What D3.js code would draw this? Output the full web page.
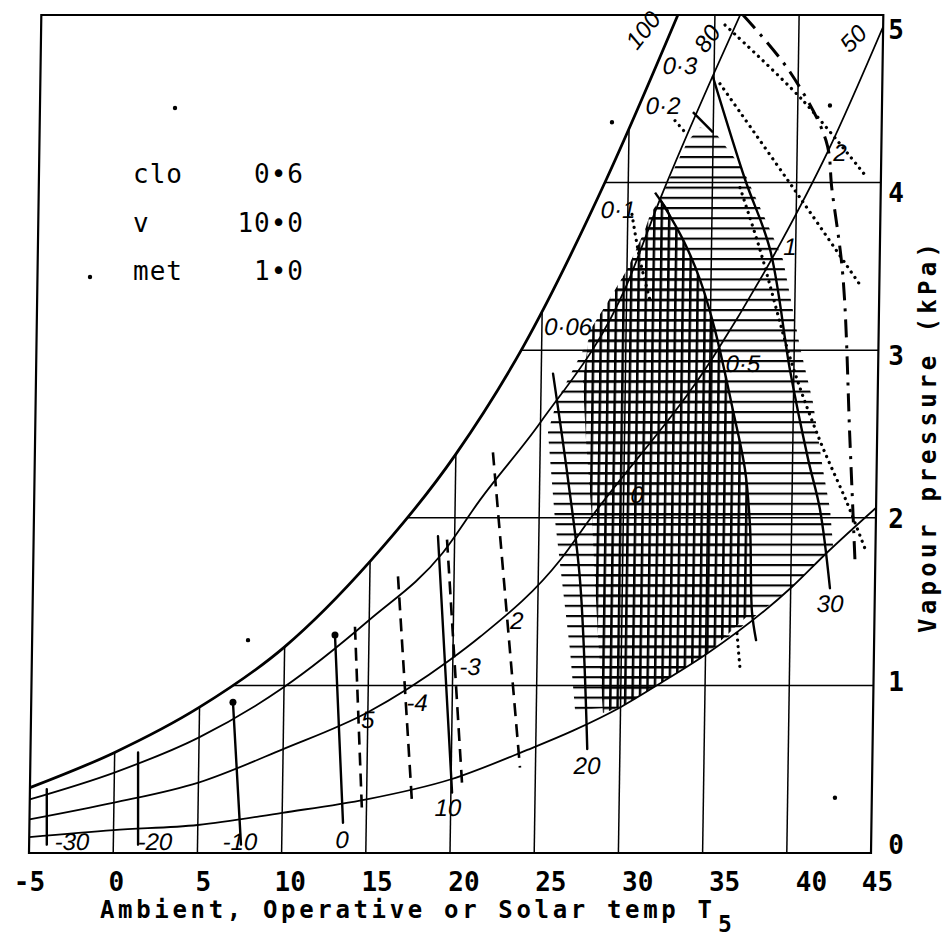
<!DOCTYPE html>
<html><head><meta charset="utf-8">
<script src="https://cdn.jsdelivr.net/npm/d3@7"></script>
<style>body{margin:0;background:#fff}svg{display:block}</style>
</head><body>
<script>
// ---------- data (temperature °C, vapour pressure kPa) ----------
const tempTicks = [-5,0,5,10,15,20,25,30,35,40,45];
const vpTicks   = [0,1,2,3,4,5];
const gridTemps = [0,5,10,15,20,25,30,35,40];
const gridVps   = [1,2,3,4];

// relative-humidity curves
const rh100 = [[-5,0.39],[0,0.60],[5,0.87],[10,1.23],[15,1.74],[20,2.38],[23.9,3.02],[28.7,4.02],[32.8,5.0]];
const rh80  = [[-5,0.32],[0,0.48],[5,0.69],[10,0.99],[15,1.39],[19.3,1.79],[21.5,2.11],[25,2.57],[30,3.39],[31.9,3.90],[34.9,4.63],[36.5,5.0]];
const rh50  = [[-5,0.20],[0,0.30],[5,0.42],[10,0.62],[15,0.84],[19.8,1.15],[21.6,1.29],[26.3,1.75],[28.0,1.99],[35.2,2.96],[39.1,3.64],[41.8,4.18],[45,4.93]];
const rh20  = [[-5,0.095],[0,0.137],[5,0.167],[10,0.24],[15,0.32],[20,0.44],[24.5,0.615],[27.2,0.73],[30,0.87],[32.3,1.01],[35.1,1.19],[40.1,1.59],[42.1,1.79],[45,2.06]];
const rhLabels = [['100',30.74,4.91],['80',34.55,4.86],['50',43.22,4.86]];

// solid index lines (label at lower end)
const isoM30 = [[-4.0,0.38],[-3.95,0.05]];
const isoM20 = [[1.39,0.60],[1.47,0.05]];
const isoM10 = [[6.98,0.90],[7.58,0.05]];
const iso0   = [[12.98,1.30],[13.62,0.18]];
const iso10  = [[19.01,1.89],[20.07,0.36]];
const iso20  = [[25.70,2.86],[26.68,2.23],[27.48,1.63],[28.06,0.62]];
const iso25  = [[31.90,3.90],[33.30,3.66],[34.35,3.42],[35.28,3.12],[36.42,2.64],[37.18,2.29],[37.53,1.95],[37.72,1.44],[37.99,1.27]];
const iso30  = [[34.94,4.63],[36.93,4.02],[38.48,3.60],[39.77,2.88],[40.92,2.35],[41.67,2.05],[42.33,1.58]];
const isoLabels = [['-30',-2.46,0.066],['-20',2.47,0.066],['-10',7.52,0.066],['0',13.58,0.078],['10',19.84,0.27],['20',28.06,0.525],['30',42.35,1.49]];

// dashed lines
const dashA = [[14.16,1.35],[14.74,0.24]];
const dashB = [[16.67,1.65],[17.70,0.30]];
const dashC = [[19.55,1.87],[20.65,0.42]];
const dashD = [[22.20,2.39],[24.08,0.51]];
const dashE = [[36.67,5.0],[39.51,4.66],[41.71,4.25],[42.10,3.96],[42.83,3.44],[43.39,2.46],[43.79,1.75]];

// dotted lines
const dotA = [[35.61,4.94],[40.30,4.49],[44.17,4.03]];
const dotB = [[35.36,4.59],[40.21,3.91],[43.85,3.39]];
const dotC = [[36.64,3.97],[37.88,3.60],[39.94,2.90],[41.61,2.46],[43.27,2.09],[44.44,1.80]];
const dotD = [[30.25,3.81],[30.76,3.54],[31.39,3.30]];
const dotE = [[32.72,4.37],[33.33,4.30]];
const dotF = [[36.85,1.31],[37.06,1.10]];

// cross ticks on the 80 % curve
const tickA = [[33.78,4.42],[34.99,4.30]];
const tickB = [[31.60,3.94],[32.39,3.83]];

// hatched zones
const hatchZone = [[33.51,4.25],[34.21,4.33],[35.11,4.30],[36.80,4.08],[38.27,3.76],[39.26,3.54],[40.34,3.02],[41.16,2.69],[41.81,2.29],[42.27,2.05],[42.48,1.83],[40.14,1.59],[35.09,1.19],[32.32,1.01],[29.97,0.87],[27.30,0.853],[26.95,1.21],[26.48,1.57],[25.94,1.99],[25.45,2.51],[25.96,2.70],[27.46,3.00],[30.00,3.48],[31.90,3.90],[32.88,4.12]];
const crossZone = [[31.32,3.81],[31.90,3.90],[32.38,3.84],[33.30,3.66],[34.35,3.42],[35.28,3.12],[36.42,2.64],[37.18,2.29],[37.53,1.95],[37.72,1.44],[35.09,1.19],[32.32,1.01],[29.97,0.87],[28.96,0.835],[28.53,1.39],[28.14,1.99],[27.72,2.46],[27.48,2.82],[27.86,3.12],[28.84,3.28],[30.00,3.48],[31.04,3.72]];

// index labels along curves
const curveLabels = [['0·3',32.97,4.70],['0·2',32.0,4.46],['0·1',29.42,3.84],['0·06',26.55,3.14],['0·5',36.97,2.92],['1',39.66,3.62],['2',42.55,4.18],['-3',21.03,1.11],['-4',17.91,0.895],['5',15.01,0.794],['2',23.77,1.39],['0',30.79,2.14]];

// specks in the print
const specks = [[3.02,4.445],[-1.88,3.437],[28.98,4.36],[41.91,4.46],[7.82,1.27],[42.81,0.33]];

const legendKeys = ['clo','v','met'];
const legendVals = ['0•6','10•0','1•0'];

// ---------- drawing ----------
const W = 943, H = 939;
const svg = d3.select('body').append('svg').attr('width',W).attr('height',H);
svg.append('rect').attr('width',W).attr('height',H).attr('fill','#fff');

const x = d3.scaleLinear().domain([-5,45]).range([29,871]);
const y = d3.scaleLinear().domain([0,5]).range([853,15]);

const defs = svg.append('defs');
const hp = defs.append('pattern').attr('id','hatchH').attr('patternUnits','userSpaceOnUse')
  .attr('width',12).attr('height',10.2).attr('y',3);
hp.append('rect').attr('width',12).attr('height',2.1).attr('fill','#000');
const xp = defs.append('pattern').attr('id','hatchX').attr('patternUnits','userSpaceOnUse')
  .attr('width',7.4).attr('height',10.2).attr('y',3);
xp.append('rect').attr('width',7.4).attr('height',2.3).attr('fill','#000');
xp.append('rect').attr('width',2.5).attr('height',10.2).attr('fill','#000');

const skew = -Math.atan(0.0147)*180/Math.PI;
const g = svg.append('g').attr('transform',`translate(0,${y(0)}) skewX(${skew}) translate(0,${-y(0)})`);

const lin = d3.line().x(d=>x(d[0])).y(d=>y(d[1]));
const smooth = d3.line().x(d=>x(d[0])).y(d=>y(d[1])).curve(d3.curveMonotoneX);
const cr = d3.line().x(d=>x(d[0])).y(d=>y(d[1])).curve(d3.curveCatmullRom.alpha(0.5));

const clipD = smooth(rh100) + `L${x(45)},${y(5)}L${x(45)},${y(0)}L${x(-5)},${y(0)}Z`;
defs.append('clipPath').attr('id','under').append('path').attr('d',clipD);

// grid
const grid = g.append('g').attr('clip-path','url(#under)').attr('stroke','#000').attr('stroke-width',1.5);
grid.selectAll('line.v').data(gridTemps).join('line').attr('class','v')
  .attr('x1',d=>x(d)).attr('x2',d=>x(d)).attr('y1',y(0)).attr('y2',y(5));
grid.selectAll('line.h').data(gridVps).join('line').attr('class','h')
  .attr('x1',x(-5)).attr('x2',x(45)).attr('y1',d=>y(d)).attr('y2',d=>y(d));

// hatching
g.append('path').attr('d',lin(hatchZone)+'Z').attr('fill','url(#hatchH)');
g.append('path').attr('d',lin(crossZone)+'Z').attr('fill','url(#hatchX)');

// RH curves
[[rh100,2.8],[rh80,1.8],[rh50,1.8],[rh20,1.8]].forEach(([d,w])=>{
  g.append('path').attr('d',smooth(d)).attr('fill','none').attr('stroke','#000').attr('stroke-width',w);
});

// solid index lines
[isoM30,isoM20,isoM10,iso0,iso10,iso20,iso25,iso30].forEach(d=>{
  g.append('path').attr('d',cr(d)).attr('fill','none').attr('stroke','#000').attr('stroke-width',2.4).attr('stroke-linecap','round');
});
[isoM10,iso0].forEach(d=>{
  g.append('circle').attr('cx',x(d[0][0])).attr('cy',y(d[0][1])).attr('r',3.5).attr('fill','#000');
});
[tickA,tickB].forEach(d=>{
  g.append('path').attr('d',lin(d)).attr('stroke','#000').attr('stroke-width',2.4);
});

// dashed lines
[dashA,dashB,dashC,dashD].forEach(d=>{
  g.append('path').attr('d',lin(d)).attr('fill','none').attr('stroke','#000').attr('stroke-width',2.6).attr('stroke-dasharray','13 8');
});
g.append('path').attr('d',cr(dashE)).attr('fill','none').attr('stroke','#000').attr('stroke-width',3)
  .attr('stroke-dasharray','18 8 3 8');

// dotted lines
[dotA,dotB,dotC,dotD,dotE,dotF].forEach(d=>{
  g.append('path').attr('d',cr(d)).attr('fill','none').attr('stroke','#000').attr('stroke-width',3.2)
    .attr('stroke-linecap','round').attr('stroke-dasharray','0.1 6.5');
});

// specks
g.selectAll('circle.sp').data(specks).join('circle').attr('class','sp')
  .attr('cx',d=>x(d[0])).attr('cy',d=>y(d[1])).attr('r',2.2).attr('fill','#000');

// frame
g.append('path').attr('d',lin([[-5,0],[45,0],[45,5],[-5,5]])+'Z').attr('fill','none').attr('stroke','#000').attr('stroke-width',2.2);

// italic labels
const ital = (sel)=>sel.attr('font-family','Liberation Sans, Arial, sans-serif').attr('font-style','italic')
  .attr('font-size',24).attr('fill','#000').attr('text-anchor','middle').attr('dominant-baseline','central');
ital(g.selectAll('text.cl').data(curveLabels).join('text').attr('class','cl')
  .attr('x',d=>x(d[1])).attr('y',d=>y(d[2])).text(d=>d[0]));
ital(g.selectAll('text.il').data(isoLabels).join('text').attr('class','il')
  .attr('x',d=>x(d[1])).attr('y',d=>y(d[2])).text(d=>d[0]));
const rhAng = [-52,-55,-47];
ital(g.selectAll('text.rl').data(rhLabels).join('text').attr('class','rl')
  .attr('transform',(d,i)=>`translate(${x(d[1])},${y(d[2])}) rotate(${rhAng[i]})`).text(d=>d[0]));

// axes (tick labels)
const xLab = d3.scaleLinear().domain([-5,40,45]).range([29,811,877]);
const ax = svg.append('g').attr('transform','translate(0,873)')
  .call(d3.axisBottom(xLab).tickValues(tempTicks).tickSize(0).tickPadding(0).tickFormat(d=>String(d)));
ax.select('.domain').remove();
ax.selectAll('text').attr('font-family','DejaVu Sans Mono, monospace').attr('font-size',26)
  .attr('font-weight','bold').attr('fill','#000');

const yLab = d3.scaleLinear().domain([0,5]).range([845,30]);
const ay = svg.append('g').attr('transform','translate(896,0)')
  .call(d3.axisRight(yLab).tickValues(vpTicks).tickSize(0).tickPadding(0).tickFormat(d=>String(d)));
ay.select('.domain').remove();
ay.selectAll('text').attr('x',0).attr('text-anchor','middle').attr('font-family','DejaVu Sans Mono, monospace')
  .attr('font-size',26).attr('font-weight','bold').attr('fill','#000');

// titles
svg.append('text').attr('x',100).attr('y',918).attr('textLength',612).attr('lengthAdjust','spacing')
  .attr('font-family','DejaVu Sans Mono, monospace').attr('font-weight','bold').attr('font-size',24)
  .text('Ambient, Operative or Solar temp T');
svg.append('text').attr('x',718).attr('y',932).attr('font-family','DejaVu Sans Mono, monospace')
  .attr('font-weight','bold').attr('font-size',23).text('5');
svg.append('text').attr('transform','translate(936,438) rotate(-90)').attr('text-anchor','middle')
  .attr('textLength',390).attr('lengthAdjust','spacing')
  .attr('font-family','DejaVu Sans Mono, monospace').attr('font-weight','bold').attr('font-size',24)
  .text('Vapour pressure (kPa)');

// legend
const legBase = [183,232,280];
svg.selectAll('text.lk').data(legendKeys).join('text').attr('class','lk')
  .attr('x',133).attr('y',(d,i)=>legBase[i]).attr('font-family','DejaVu Sans Mono, monospace')
  .attr('font-size',26).attr('letter-spacing',1).text(d=>d);
svg.selectAll('text.lv').data(legendVals).join('text').attr('class','lv')
  .attr('x',304).attr('y',(d,i)=>legBase[i]).attr('text-anchor','end').attr('font-family','DejaVu Sans Mono, monospace')
  .attr('font-size',26).attr('letter-spacing',1).text(d=>d);
</script>
</body></html>
